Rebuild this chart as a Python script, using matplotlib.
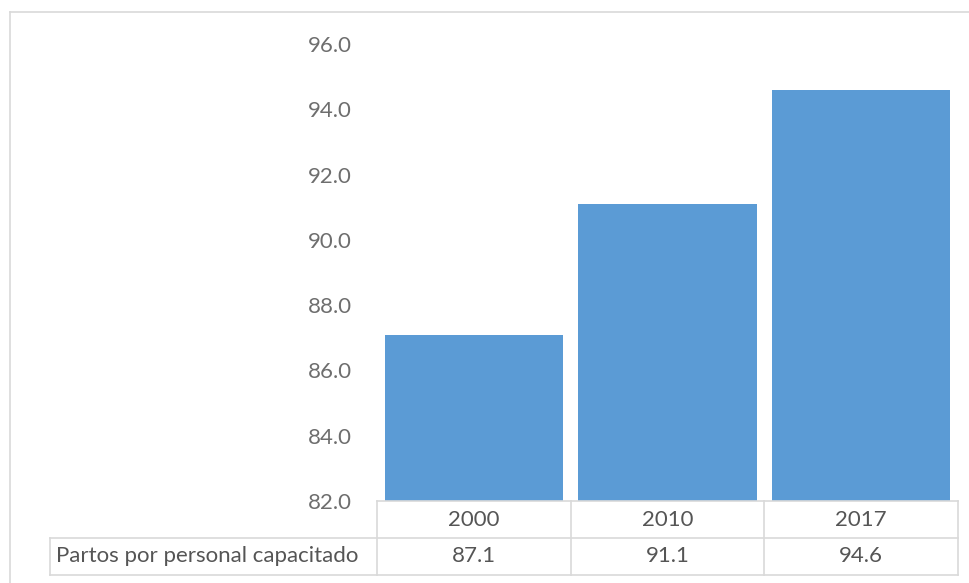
import numpy as np
import matplotlib.pyplot as plt
from matplotlib.lines import Line2D

years = ["2000", "2010", "2017"]
values = [87.1, 91.1, 94.6]
row_label = "Partos por personal capacitado"
yticks = [82, 84, 86, 88, 90, 92, 94, 96]

plt.rcParams['font.family'] = ['Lato', 'DejaVu Sans']

W, H = 970, 583
fig = plt.figure(figsize=(W / 100, H / 100), dpi=100)
ax = fig.add_axes([377 / W, 1 - 501 / H, (958 - 377) / W, (501 - 44) / H])

x = np.arange(len(years))
ax.bar(x, values, width=0.92, color="#5b9bd5", bottom=0)
ax.set_xlim(-0.5, len(years) - 0.5)
ax.set_ylim(82, 96)
ax.set_yticks(yticks)
ax.set_yticklabels(["%.1f" % t for t in yticks])
ax.tick_params(axis="y", length=0, pad=18, labelsize=16, labelcolor="#6e6e6e")
ax.set_xticks([])
for s in ax.spines.values():
    s.set_visible(False)

# data table under the plot
grid = "#d9d9d9"
tc = "#555555"
fs = 16
tr = ax.get_xaxis_transform()
ax_h = 501 - 44
row_h = 37 / ax_h
left = -0.5 - (377 - 53) / 192.0
right = len(years) - 0.5
y0, y1, y2 = 0.0, -row_h, -2 * row_h

def hline(xa, xb, y):
    ax.add_line(Line2D([xa, xb], [y, y], transform=tr, color=grid, lw=1.2, clip_on=False))

def vline(xv, ya, yb):
    ax.add_line(Line2D([xv, xv], [ya, yb], transform=tr, color=grid, lw=1.2, clip_on=False))

hline(-0.5, right, y0)
hline(left, right, y1)
hline(left, right, y2)
vline(left, y1, y2)
for b in np.arange(-0.5, len(years), 1.0):
    vline(b, y0, y2)

for i, (yr, v) in enumerate(zip(years, values)):
    ax.text(i, (y0 + y1) / 2, yr, transform=tr, ha="center", va="center",
            fontsize=fs, color=tc)
    ax.text(i, (y1 + y2) / 2, "%.1f" % v, transform=tr, ha="center", va="center",
            fontsize=fs, color=tc)
ax.text(left + 0.03, (y1 + y2) / 2, row_label, transform=tr, ha="left", va="center",
        fontsize=fs, color=tc)

# chart area border
fig.add_artist(Line2D([10 / W, 1], [1 - 12 / H, 1 - 12 / H], color=grid, lw=1.2))
fig.add_artist(Line2D([10 / W, 10 / W], [0, 1 - 12 / H], color=grid, lw=1.2))

fig.savefig("out.png", dpi=100)
